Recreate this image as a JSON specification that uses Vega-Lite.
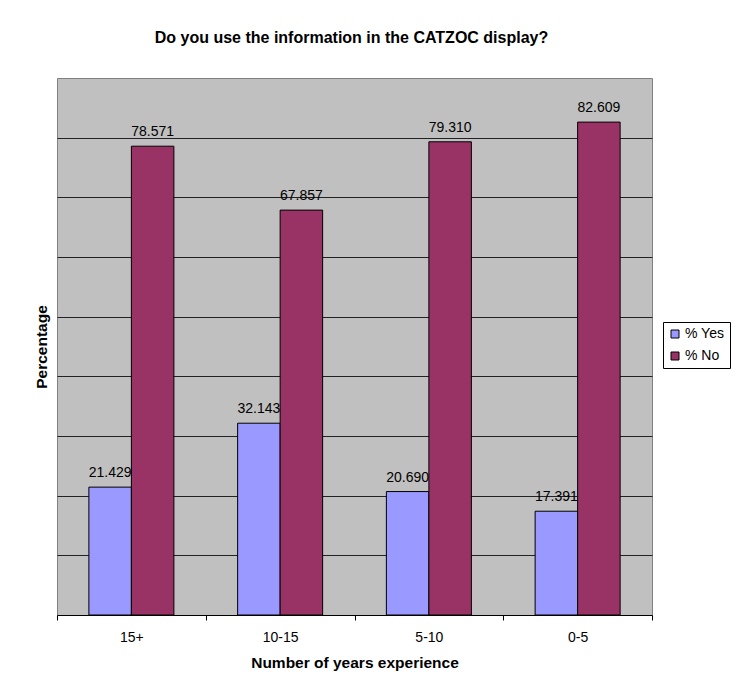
{
  "$schema": "https://vega.github.io/schema/vega-lite/v6.json",
  "width": 595,
  "height": 537,
  "autosize": {"type": "none"},
  "padding": {"left": 57, "top": 78, "right": 81, "bottom": 72},
  "background": "white",
  "title": {
    "text": "Do you use the information in the CATZOC display?",
    "fontSize": 16,
    "fontWeight": "bold",
    "color": "black",
    "baseline": "alphabetic",
    "offset": 19,
    "anchor": "middle",
    "dx": -3
  },
  "config": {
    "font": "Liberation Sans",
    "view": {"stroke": "#808080", "strokeWidth": 1, "fill": "#C0C0C0"}
  },
  "data": {
    "values": [
      {"experience": "15+", "series": "% Yes", "value": 21.429},
      {"experience": "15+", "series": "% No", "value": 78.571},
      {"experience": "10-15", "series": "% Yes", "value": 32.143},
      {"experience": "10-15", "series": "% No", "value": 67.857},
      {"experience": "5-10", "series": "% Yes", "value": 20.690},
      {"experience": "5-10", "series": "% No", "value": 79.310},
      {"experience": "0-5", "series": "% Yes", "value": 17.391},
      {"experience": "0-5", "series": "% No", "value": 82.609}
    ]
  },
  "encoding": {
    "x": {
      "field": "experience",
      "type": "nominal",
      "sort": null,
      "scale": {"paddingInner": 0, "paddingOuter": 0},
      "axis": {
        "title": "Number of years experience",
        "titleFontSize": 15.5,
        "titleFontWeight": "bold",
        "titleColor": "black",
        "titlePadding": 11,
        "labelAngle": 0,
        "labelFontSize": 14,
        "labelColor": "black",
        "labelPadding": 10,
        "domainColor": "black",
        "tickColor": "black",
        "tickSize": 5,
        "tickBand": "extent",
        "grid": false
      }
    },
    "xOffset": {
      "field": "series",
      "sort": ["% Yes", "% No"],
      "scale": {"paddingInner": 0, "paddingOuter": 0.75}
    },
    "y": {
      "field": "value",
      "type": "quantitative",
      "scale": {"domain": [0, 90], "nice": false},
      "axis": {
        "title": "Percentage",
        "titleFontSize": 15.5,
        "titleFontWeight": "bold",
        "titleColor": "black",
        "titlePadding": 8,
        "labels": false,
        "ticks": false,
        "domain": false,
        "grid": true,
        "gridColor": "#222222",
        "gridOpacity": 1,
        "values": [10, 20, 30, 40, 50, 60, 70, 80]
      }
    }
  },
  "layer": [
    {
      "mark": {"type": "bar", "stroke": "black", "strokeWidth": 1},
      "encoding": {
        "color": {
          "field": "series",
          "type": "nominal",
          "scale": {"domain": ["% Yes", "% No"], "range": ["#9999FF", "#993366"]},
          "legend": {
            "title": null,
            "orient": "none",
            "legendX": 606,
            "legendY": 244,
            "fillColor": "white",
            "strokeColor": "black",
            "padding": 5,
            "symbolType": "square",
            "symbolSize": 64,
            "symbolStrokeColor": "black",
            "symbolStrokeWidth": 1,
            "symbolOpacity": 1,
            "labelFontSize": 14,
            "labelColor": "black",
            "rowPadding": 8,
            "labelOffset": 3
          }
        }
      }
    },
    {
      "mark": {"type": "text", "baseline": "alphabetic", "dy": -10, "fontSize": 14, "color": "black"},
      "encoding": {
        "text": {"field": "value", "type": "quantitative", "format": ".3f"}
      }
    }
  ]
}
